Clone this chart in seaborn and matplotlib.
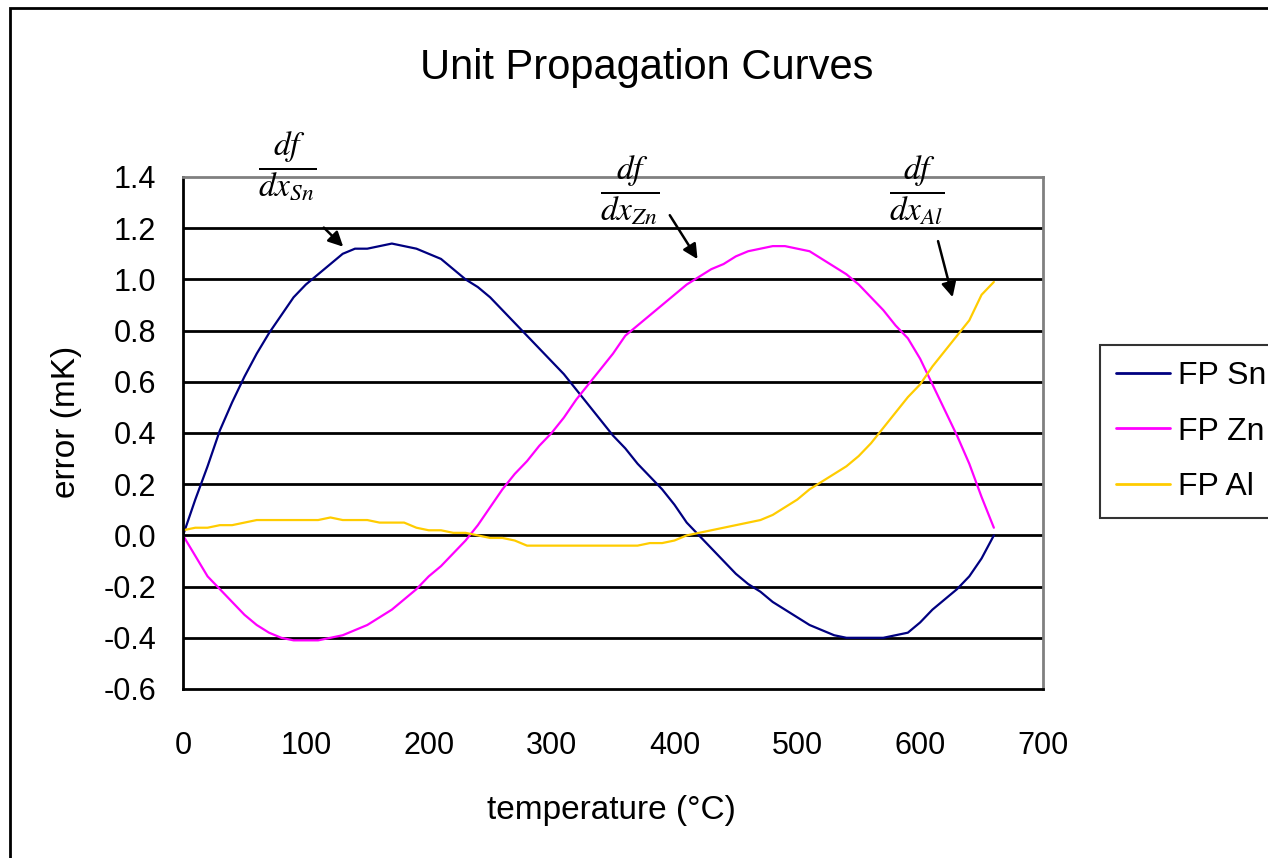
import matplotlib
matplotlib.use("Agg")
import matplotlib.pyplot as plt
from matplotlib.patches import Rectangle
import pandas as pd
import seaborn as sns

# temperatures (deg C), readings every 10 degrees
temps = list(range(0, 670, 10))

fp_sn = [0.00, 0.14, 0.27, 0.41, 0.52, 0.62, 0.71, 0.79, 0.86, 0.93,
         0.98, 1.02, 1.06, 1.10, 1.12, 1.12, 1.13, 1.14, 1.13, 1.12,
         1.10, 1.08, 1.04, 1.00, 0.97, 0.93, 0.88, 0.83, 0.78, 0.73,
         0.68, 0.63, 0.57, 0.51, 0.45, 0.39, 0.34, 0.28, 0.23, 0.18,
         0.12, 0.05, 0.00, -0.05, -0.10, -0.15, -0.19, -0.22, -0.26, -0.29,
         -0.32, -0.35, -0.37, -0.39, -0.40, -0.40, -0.40, -0.40, -0.39, -0.38,
         -0.34, -0.29, -0.25, -0.21, -0.16, -0.09, 0.00]

fp_zn = [0.00, -0.08, -0.16, -0.21, -0.26, -0.31, -0.35, -0.38, -0.40, -0.41,
         -0.41, -0.41, -0.40, -0.39, -0.37, -0.35, -0.32, -0.29, -0.25, -0.21,
         -0.16, -0.12, -0.07, -0.02, 0.04, 0.11, 0.18, 0.24, 0.29, 0.35,
         0.40, 0.46, 0.53, 0.59, 0.65, 0.71, 0.78, 0.82, 0.86, 0.90,
         0.94, 0.98, 1.01, 1.04, 1.06, 1.09, 1.11, 1.12, 1.13, 1.13,
         1.12, 1.11, 1.08, 1.05, 1.02, 0.98, 0.93, 0.88, 0.82, 0.77,
         0.69, 0.59, 0.49, 0.39, 0.28, 0.15, 0.03]

fp_al = [0.02, 0.03, 0.03, 0.04, 0.04, 0.05, 0.06, 0.06, 0.06, 0.06,
         0.06, 0.06, 0.07, 0.06, 0.06, 0.06, 0.05, 0.05, 0.05, 0.03,
         0.02, 0.02, 0.01, 0.01, 0.00, -0.01, -0.01, -0.02, -0.04, -0.04,
         -0.04, -0.04, -0.04, -0.04, -0.04, -0.04, -0.04, -0.04, -0.03, -0.03,
         -0.02, 0.00, 0.01, 0.02, 0.03, 0.04, 0.05, 0.06, 0.08, 0.11,
         0.14, 0.18, 0.21, 0.24, 0.27, 0.31, 0.36, 0.42, 0.48, 0.54,
         0.59, 0.66, 0.72, 0.78, 0.84, 0.94, 0.99]

series_names = ["FP Sn", "FP Zn", "FP Al"]
colors = ["#000080", "#FF00FF", "#FFCC00"]

df = pd.DataFrame({
    "temperature": temps * 3,
    "error": fp_sn + fp_zn + fp_al,
    "series": [n for n in series_names for _ in temps],
})

sns.set_style("white")
plt.rcParams["font.family"] = ["Liberation Sans", "DejaVu Sans"]
plt.rcParams["axes.unicode_minus"] = False
plt.rcParams["mathtext.fontset"] = "stix"
for k in ["text.color", "axes.labelcolor", "xtick.color", "ytick.color"]:
    plt.rcParams[k] = "black"

W, H = 1268, 858
fig = plt.figure(figsize=(W / 100, H / 100), dpi=100)
ax = fig.add_axes([183 / W, 1 - 689 / H, (1043 - 183) / W, (689 - 177) / H])

sns.lineplot(data=df, x="temperature", y="error", hue="series",
             palette=dict(zip(series_names, colors)), linewidth=1.6,
             ax=ax, legend=False)

ax.set_xlim(0, 700)
ax.set_ylim(-0.6, 1.4)
ax.set_xticks(range(0, 701, 100))
yt = [round(-0.6 + 0.2 * i, 1) for i in range(11)]
ax.set_yticks(yt)
ax.set_yticklabels([f"{v:.1f}" for v in yt])
for v in yt[1:-1]:
    ax.axhline(v, color="black", lw=2, zorder=0)

ax.tick_params(axis="both", labelsize=22, length=8.5, width=1.5,
               direction="out")
ax.tick_params(axis="y", pad=11)
ax.tick_params(axis="x", pad=22)
for s in ["left", "bottom"]:
    ax.spines[s].set_color("black")
    ax.spines[s].set_linewidth(2)
for s in ["top", "right"]:
    ax.spines[s].set_color("#808080")
    ax.spines[s].set_linewidth(2)

ax.set_xlabel("temperature (°C)", fontsize=24, va="center")
ax.xaxis.set_label_coords((611 - 183) / 860, (689 - 810) / 512)
ax.set_ylabel("error (mK)", fontsize=24, va="center")
ax.yaxis.set_label_coords((67 - 183) / 860, (689 - 422) / 512)
fig.text(647 / W, 1 - 68 / H, "Unit Propagation Curves", fontsize=30,
         ha="center", va="center")

# fraction labels and arrows
labels = [(r"$\dfrac{df}{dx_{Sn}}$", 85, 1.44),
          (r"$\dfrac{df}{dx_{Zn}}$", 364, 1.35),
          (r"$\dfrac{df}{dx_{Al}}$", 597, 1.35)]
for txt, x, y in labels:
    ax.text(x, y, txt, fontsize=24, ha="center", va="center", clip_on=False)

arrows = [((113, 1.21), (132, 1.12)),
          ((395, 1.26), (420, 1.07)),
          ((614, 1.16), (627, 0.92))]
for start, end in arrows:
    ax.annotate("", xy=end, xytext=start,
                arrowprops=dict(arrowstyle="-|>", color="black", lw=1.8,
                                mutation_scale=22))

handles = [plt.Line2D([], [], color=c, lw=2) for c in colors]
leg = fig.legend(handles, series_names, loc="upper left",
                 bbox_to_anchor=(1100 / W, 1 - 345 / H), fontsize=23,
                 frameon=True, fancybox=False, handlelength=1.7,
                 handletextpad=0.25, labelspacing=0.8, borderpad=0.5,
                 borderaxespad=0)
leg.get_frame().set_edgecolor("black")
leg.get_frame().set_linewidth(1.5)

fig.add_artist(Rectangle((10 / W, -0.1), 2, 1.1 - 8 / H,
                         transform=fig.transFigure, fill=False,
                         ec="black", lw=2))

fig.savefig("out.png", dpi=100)
